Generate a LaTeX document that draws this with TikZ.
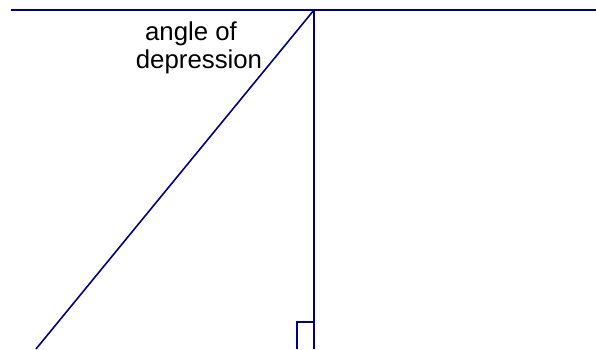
\documentclass[tikz,border=0pt]{standalone}
\usepackage{fontspec}
\setmainfont{Liberation Sans}
\definecolor{navyline}{RGB}{0,0,128}
\tikzset{
  ln/.style={draw=navyline, line width=1.6pt},
  lbl/.style={font=\fontsize{25.8}{28}\selectfont, align=center, inner sep=0pt, anchor=base}
}
\begin{document}
\begin{tikzpicture}[x=1pt,y=-1pt]
\useasboundingbox (0,0) rectangle (596,349);
\coordinate (hl) at (11,10);
\coordinate (hr) at (596,10);
\coordinate (top) at (314,10);
\coordinate (bot) at (314,349);
\coordinate (dl) at (36,349);
\coordinate (sq1) at (297,349);
\coordinate (sq2) at (297,322);
\coordinate (sq3) at (314,322);
\draw[ln] (hl) -- (hr);
\draw[ln] (top) -- (bot);
\draw[ln] (top) -- (dl);
\draw[ln] (sq1) -- (sq2) -- (sq3);
\node[lbl] (t1) at (191,40) {angle of};
\node[lbl] (t2) at (199,68) {depression};
\end{tikzpicture}
\end{document}
